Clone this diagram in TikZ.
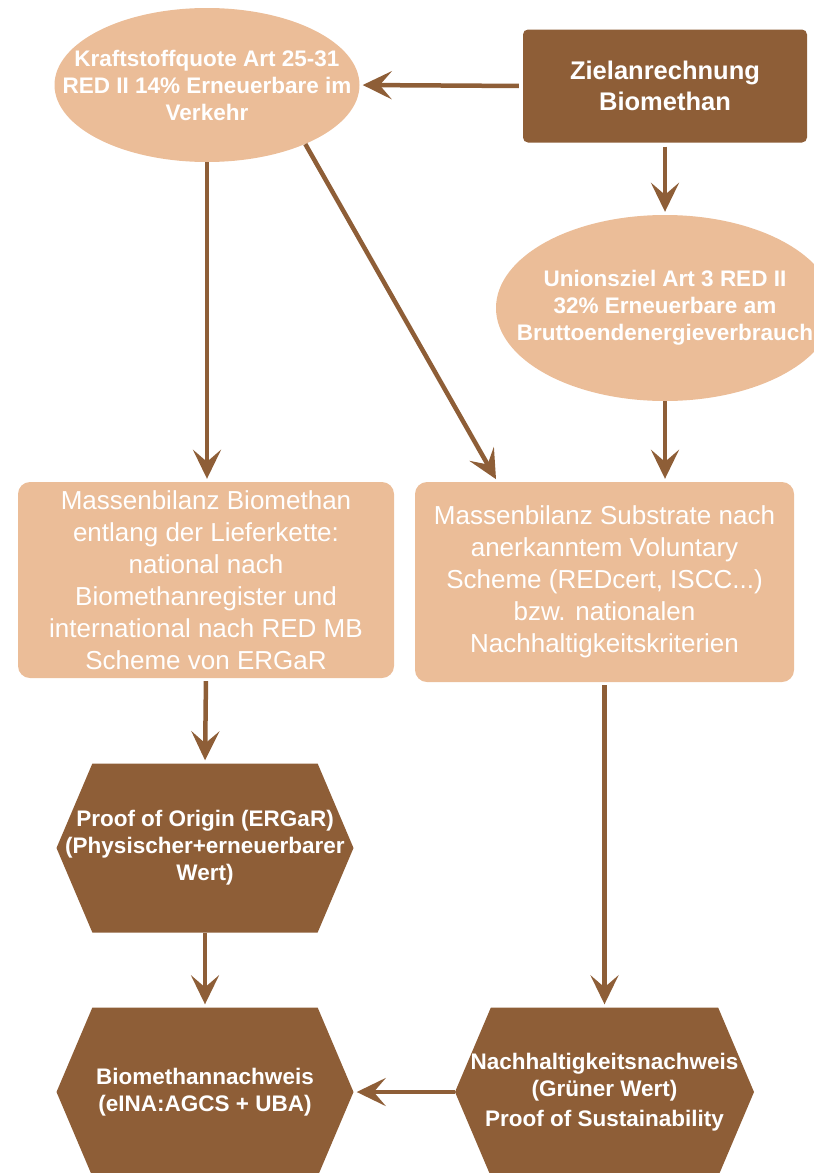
\documentclass[tikz,border=0pt]{standalone}
\usepackage{fontspec}
\setmainfont{Liberation Sans}
\usetikzlibrary{arrows.meta,shapes.geometric,shapes.symbols}
\definecolor{braun}{RGB}{142,94,55}
\definecolor{pfirsich}{RGB}{235,189,152}

\begin{document}
\begin{tikzpicture}[line cap=round,line join=round,>={Stealth[length=29pt,width=28pt,inset=12pt]},x=1pt,y=-1pt,
  pfeil/.style={->,draw=braun,line width=4.5pt,line cap=butt,shorten >=3pt},
  oval/.style={ellipse,fill=pfirsich,text=white,font=\bfseries\fontsize{22.5}{27}\selectfont,align=center,inner xsep=-50pt,inner ysep=0pt},
  kasten/.style={rectangle,rounded corners=12pt,fill=pfirsich,text=white,font=\fontsize{26}{32}\selectfont,align=center,inner sep=0pt},
  sechseck/.style={signal,signal to=west and east,signal pointer angle=134,fill=braun,text=white,font=\bfseries\fontsize{22.5}{27}\selectfont,align=center,inner xsep=-40pt,inner ysep=0pt,minimum width=297pt,minimum height=169pt}]
\useasboundingbox (0,0) rectangle (814,1173);
% obere Reihe
\node[oval,minimum width=305pt,minimum height=154pt] (quote) at (207,85) {Kraftstoffquote Art 25-31\\RED II 14\% Erneuerbare im\\Verkehr};
\node[rectangle,rounded corners=5pt,fill=braun,text=white,font=\bfseries\fontsize{25.5}{31}\selectfont,align=center,inner sep=0pt,minimum width=284pt,minimum height=113pt] (ziel) at (665,86) {Zielanrechnung\\Biomethan};
\node[oval,minimum width=338pt,minimum height=186pt] (union) at (665,308) {Unionsziel Art 3 RED II\\32\% Erneuerbare am\\Bruttoendenergieverbrauch};
% Massenbilanzen
\node[kasten,minimum width=376pt,minimum height=196pt] (mbio) at (206,580) {Massenbilanz Biomethan\\entlang der Lieferkette:\\national nach\\Biomethanregister und\\international nach RED MB\\Scheme von ERGaR};
\node[kasten,minimum width=379pt,minimum height=200pt] (subst) at (604.5,582) {Massenbilanz Substrate nach\\anerkanntem Voluntary\\Scheme (REDcert, ISCC...)\\bzw. nationalen\\Nachhaltigkeitskriterien};
% Nachweise
\node[sechseck] (poo) at (205,848) {Proof of Origin (ERGaR)\\(Physischer+erneuerbarer\\Wert)};
\node[sechseck] (bmn) at (205,1092) {Biomethannachweis\\(eINA:AGCS + UBA)};
\node[sechseck,minimum width=299pt] (nhn) at (604.5,1092) {Nachhaltigkeitsnachweis\\(Grüner Wert)\\[3pt]Proof of Sustainability};
% Pfeile
\draw[pfeil,shorten <=4pt] (ziel.west) -- (quote.east);
\draw[pfeil,shorten <=4pt] (ziel.south) -- (union.north);
\draw[pfeil] (union.south) -- (subst.north -| union.south);
\draw[pfeil] (quote.south) -- (quote.south |- mbio.north);
\draw[pfeil] (quote.-31.6) -- ([xshift=-107pt]subst.north);
\draw[pfeil,shorten <=3pt] (mbio.south) -- (poo.north);
\draw[pfeil] (poo.south) -- (bmn.north);
\draw[pfeil,shorten <=3pt] (subst.south) -- (nhn.north);
\draw[pfeil] (nhn.west) -- (bmn.east);
\end{tikzpicture}
\end{document}
